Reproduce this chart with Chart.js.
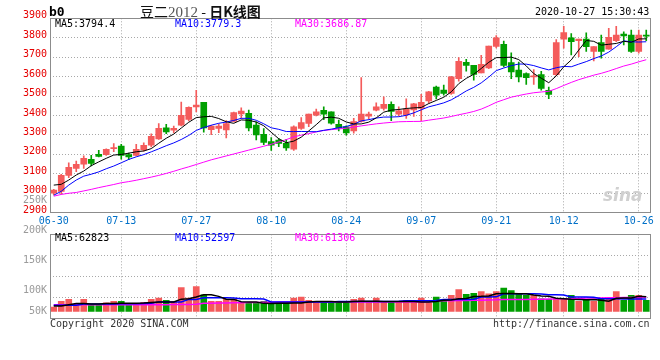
<!DOCTYPE html>
<html><head><meta charset="utf-8">
<script src="https://cdn.jsdelivr.net/npm/chart.js@4/dist/chart.umd.min.js"></script>
<style>
html,body{margin:0;padding:0;background:#fff;}
#wrap{position:relative;width:660px;height:360px;overflow:hidden;background:#fff;}
canvas{position:absolute;left:0;top:0;}
.t{position:absolute;white-space:nowrap;font-family:"DejaVu Sans Mono",monospace;font-size:10px;line-height:10px;}
</style></head><body>
<div id="wrap">
<canvas id="price" width="660" height="232"></canvas>
<canvas id="vol" width="660" height="360"></canvas>
<div class="t" style="left:49px;top:5px;font-size:13px;line-height:13px;font-weight:bold;">b0</div>
<div class="t" style="left:140px;top:3px;font-family:'Noto Sans CJK SC';font-size:14px;line-height:16px;color:#111;">豆二<span style="font-family:'Liberation Serif';color:#555;font-size:15px;">2012</span> - <b>日K线图</b></div>
<div class="t" style="left:535px;top:7px;">2020-10-27 15:30:43</div>
<div class="t" style="left:55px;top:19px;color:#000;">MA5:3794.4</div>
<div class="t" style="left:175px;top:19px;color:#0000ff;">MA10:3779.3</div>
<div class="t" style="left:295px;top:19px;color:#ff00ff;">MA30:3686.87</div>
<div class="t" style="left:55px;top:233px;color:#000;">MA5:62823</div>
<div class="t" style="left:175px;top:233px;color:#0000ff;">MA10:52597</div>
<div class="t" style="left:295px;top:233px;color:#ff00ff;">MA30:61306</div>
<div class="t" style="left:50px;top:319px;color:#333;">Copyright 2020 SINA.COM</div>
<div class="t" style="left:493px;top:319px;color:#333;">http://finance.sina.com.cn</div>
<div class="t" style="left:603px;top:186px;font-family:'DejaVu Sans';font-style:italic;font-weight:bold;font-size:17px;line-height:18px;color:#d0d0d0;">sina</div>
</div>
<script>
const DATES = ['06-30','07-01','07-02','07-03','07-06','07-07','07-08','07-09','07-10','07-13','07-14','07-15','07-16','07-17','07-20','07-21','07-22','07-23','07-24','07-27','07-28','07-29','07-30','07-31','08-03','08-04','08-05','08-06','08-07','08-10','08-11','08-12','08-13','08-14','08-17','08-18','08-19','08-20','08-21','08-24','08-25','08-26','08-27','08-28','08-31','09-01','09-02','09-03','09-04','09-07','09-08','09-09','09-10','09-11','09-14','09-15','09-16','09-17','09-18','09-21','09-22','09-23','09-24','09-25','09-28','09-29','09-30','10-09','10-12','10-13','10-14','10-15','10-16','10-19','10-20','10-21','10-22','10-23','10-26','10-27'];
const TICK_DATES = ['06-30','07-13','07-27','08-10','08-24','09-07','09-21','10-12','10-26'];
const OPEN  = [3000,3009,3092,3128,3149,3175,3200,3199,3230,3243,3199,3195,3223,3248,3279,3336,3324,3350,3380,3444,3468,3327,3333,3326,3370,3408,3411,3351,3303,3266,3274,3257,3227,3333,3359,3402,3427,3419,3355,3342,3321,3369,3397,3427,3436,3458,3407,3403,3429,3437,3475,3546,3531,3514,3590,3674,3658,3619,3645,3755,3766,3672,3633,3616,3599,3610,3529,3610,3793,3800,3785,3793,3729,3775,3741,3785,3819,3814,3729,3814];
const HIGH  = [3020,3097,3157,3166,3192,3195,3221,3229,3255,3252,3207,3252,3260,3306,3358,3354,3346,3469,3445,3529,3468,3350,3356,3374,3418,3439,3428,3368,3333,3286,3281,3278,3347,3389,3407,3433,3445,3419,3376,3347,3386,3595,3417,3465,3496,3470,3445,3486,3462,3509,3524,3551,3556,3602,3698,3689,3658,3709,3757,3811,3783,3723,3675,3620,3636,3627,3546,3790,3859,3822,3793,3825,3754,3814,3848,3859,3831,3839,3839,3839];
const LOW   = [2992,2995,3080,3111,3128,3140,3187,3195,3214,3175,3173,3192,3217,3238,3277,3306,3312,3346,3372,3418,3314,3302,3312,3285,3367,3386,3321,3274,3250,3220,3240,3220,3221,3329,3342,3398,3378,3355,3321,3299,3309,3366,3381,3424,3427,3373,3398,3385,3395,3373,3463,3485,3505,3509,3577,3628,3582,3619,3641,3747,3650,3590,3573,3560,3560,3530,3486,3605,3746,3712,3703,3729,3681,3695,3741,3780,3763,3725,3720,3785];
const CLOSE = [3016,3092,3134,3149,3180,3154,3190,3226,3233,3195,3187,3226,3247,3293,3334,3315,3334,3401,3442,3454,3336,3345,3345,3358,3415,3423,3336,3300,3262,3247,3257,3233,3342,3364,3407,3419,3407,3361,3335,3311,3369,3407,3407,3445,3458,3421,3424,3433,3460,3468,3522,3505,3514,3599,3679,3658,3611,3663,3757,3800,3658,3624,3599,3594,3603,3539,3508,3775,3827,3780,3793,3754,3754,3729,3802,3814,3810,3729,3814,3808];
const MA5  = [3042,3046,3068,3094,3114.2,3141.8,3161.4,3179.8,3196.6,3199.6,3206.2,3213.4,3217.6,3229.6,3257.4,3283,3304.6,3335.4,3365.2,3389.2,3393.4,3395.6,3384.4,3367.6,3359.8,3377.2,3375.4,3366.4,3347.2,3313.6,3280.4,3259.8,3268.2,3288.6,3320.6,3353,3387.8,3391.6,3385.8,3366.6,3356.6,3356.6,3365.8,3387.8,3417.2,3427.6,3431,3436.2,3439.2,3441.2,3461.4,3477.6,3493.8,3521.6,3563.8,3591,3612.2,3642,3673.6,3697.8,3697.8,3700.4,3687.6,3655,3615.6,3591.8,3568.6,3603.8,3650.4,3685.8,3736.6,3785.8,3781.6,3762,3766.4,3770.6,3781.8,3776.8,3793.8,3794.4];
const MA10 = [2990,3010,3042,3068,3088,3098,3110,3126,3140,3156.9,3174,3187.4,3198.7,3213.1,3228.5,3244.6,3259,3276.5,3297.4,3323.3,3338.2,3350.1,3359.9,3366.4,3374.5,3385.3,3385.5,3375.4,3357.4,3336.7,3328.8,3317.6,3317.3,3317.9,3317.1,3316.7,3323.8,3329.9,3337.2,3343.6,3354.8,3372.2,3378.7,3386.8,3391.9,3392.1,3393.8,3401,3413.5,3429.2,3444.5,3454.3,3465,3480.4,3502.5,3526.2,3544.9,3567.9,3597.6,3630.8,3644.4,3656.3,3664.8,3664.3,3656.7,3644.8,3634.5,3645.7,3652.7,3650.7,3664.2,3677.2,3692.7,3706.2,3726.1,3753.6,3783.8,3779.2,3777.9,3779.3];
const MA30 = [2985,2994,3000,3004,3012,3020,3029,3037,3045,3054,3060,3067,3075,3083,3092,3102,3113,3125,3136,3148,3160,3172,3182,3192,3202,3212,3222,3232,3242,3252,3264,3276,3290,3299.1,3306.7,3315.5,3322.8,3327.3,3330.7,3334.5,3340.6,3346.6,3352,3357,3361.2,3364.7,3367.7,3368.8,3369.4,3369.8,3376,3381.4,3387,3395,3403.8,3411.7,3420.8,3432.9,3449.4,3467.9,3481.2,3494.3,3502.8,3510.5,3517,3521,3524.4,3538.2,3554.6,3570.2,3584.4,3595.9,3607.5,3617,3628.4,3641.5,3654.4,3664.3,3676.1,3686.87];
const VOLUME = [18400,42500,51000,29800,51000,28300,28300,36800,42500,42500,28300,31200,38300,51000,56700,46800,42500,102000,56700,106000,70800,42500,42500,51000,51000,38300,36800,36800,42500,32600,36800,36800,56700,61000,46800,42500,42500,42500,39700,39700,51000,56700,39700,56700,39700,39700,39700,46800,46800,56700,36800,61000,51000,68000,93500,72300,76500,85000,75000,85000,99000,89000,75000,68000,68000,53800,51000,53800,53800,68000,42500,51000,42500,51000,51000,85000,46800,68000,68000,46800];
const VOL_MA5  = [23000,23000,28000,33000,33000,31000,31000,33000,33000,34000,35000,35000,36000,38000,40000,40000,40000,52000,54000,61000,71000,71000,64000,52000,51000,41000,40000,40000,34000,33000,35000,35000,36000,36000,40000,42000,42000,42000,40000,40000,42000,43000,43000,43000,42000,42000,42000,42000,42000,40000,40000,42000,47000,48000,54000,55000,63000,64000,66000,75000,76000,76000,75000,75000,70000,66000,64000,56000,54000,52000,51000,50000,51000,47000,43000,56000,57000,57000,64000,62823];
const VOL_MA10 = [25500,25500,25500,26000,31000,31000,31000,31000,31500,32600,32600,32600,33000,34000,39700,39700,39700,40000,51000,51000,58000,58000,58000,58000,57000,54000,54000,54000,53000,40000,40000,40000,40000,40000,40000,40000,40000,40000,42500,42500,42500,42500,42500,42500,42500,42500,43000,45000,45000,45000,45000,46000,51000,51000,51000,51000,52000,61000,61000,62000,75000,75000,75000,75000,75000,74000,71000,71000,70000,61000,61000,61000,60000,54000,54000,54000,52600,52600,52600,52597];
const VOL_MA30 = [28300,28300,28300,28300,28300,28300,28300,28300,28300,28300,28300,28300,28300,28300,28300,28500,28800,29000,29500,30000,34000,35000,35500,36000,36500,37000,37500,38000,38500,39000,39500,39700,39700,39700,39700,39700,39700,39700,40000,40000,40000,40000,40000,40000,40000,40000,40000,40000,40000,40000,40500,45000,45000,45500,46000,46500,47000,47500,48000,49000,51000,51000,51000,51000,51500,52000,52500,53000,53500,54000,55000,57000,57000,57500,58000,58500,59000,59500,60500,61306];
const PRICE_MIN = 2900, PRICE_MAX = 3900, PRICE_STEP = 100;
const VOL_TICK_VALUES = [250000,200000,150000,100000,50000];
const VOL_TICK_LABELS = ['250K','200K','150K','100K','50K'];

const UP = '#f45b5b', DOWN = '#009f00';
const GRID = '#a8a8a8', FRAME = '#8c8c8c';
const MONO = 'DejaVu Sans Mono';
const candleColor = ctx => CLOSE[ctx.dataIndex] >= OPEN[ctx.dataIndex] ? UP : DOWN;
const vGridColor = ctx => (ctx.index > 0 && TICK_DATES.includes(DATES[ctx.index])) ? GRID : 'rgba(0,0,0,0)';

const framePlugin = {
  id: 'frame',
  afterDraw(chart) {
    const a = chart.chartArea, c = chart.ctx;
    c.save(); c.strokeStyle = FRAME; c.lineWidth = 1;
    c.strokeRect(Math.round(a.left) + 0.5, Math.round(a.top) + 0.5, Math.round(a.right - a.left), Math.round(a.bottom - a.top));
    c.restore();
  }
};
// volume axis labels: placed by the label scale, never below the volume baseline
const volLabelPlugin = {
  id: 'volLabels',
  afterDraw(chart) {
    const yl = chart.scales.yl, yv = chart.scales.y, c = chart.ctx;
    const base = yv.getPixelForValue(0);
    c.save(); c.fillStyle = '#9a9a9a'; c.font = '10px "' + MONO + '"';
    c.textAlign = 'right'; c.textBaseline = 'middle';
    VOL_TICK_VALUES.forEach((v, i) => {
      c.fillText(VOL_TICK_LABELS[i], chart.chartArea.left - 3, Math.min(yl.getPixelForValue(v), base));
    });
    c.restore();
  }
};
const lineDs = (label, data, color, w) => ({type:'line', label, data, borderColor:color, borderWidth:w||1, pointRadius:0, tension:0, order:0});

new Chart(document.getElementById('price'), {
  type: 'bar',
  data: {
    labels: DATES,
    datasets: [
      lineDs('MA5', MA5, '#000000'),
      lineDs('MA10', MA10, '#0000ff'),
      lineDs('MA30', MA30, '#ff00ff'),
      {label:'range', data: LOW.map((l,i)=>[l,HIGH[i]]), backgroundColor: candleColor, barThickness:1, grouped:false, order:2},
      {label:'body', data: OPEN.map((o,i)=>[o,CLOSE[i]]), backgroundColor: candleColor, barThickness:6, grouped:false, minBarLength:1, order:1}
    ]
  },
  options: {
    responsive:false, animation:false, events:[],
    layout:{padding:{left:0,right:10,top:18.3,bottom:0}},
    plugins:{legend:{display:false}, tooltip:{enabled:false}},
    scales:{
      x:{offset:true, grid:{offset:false, color:vGridColor, drawTicks:false}, border:{display:false, dash:[1,2]},
         ticks:{autoSkip:false, maxRotation:0, padding:3, color:'#0070c8', font:{family:MONO,size:10},
                callback:(v,i)=> TICK_DATES.includes(DATES[i]) ? DATES[i] : ''},
         afterFit:s=>{s.height=19.3;}},
      y:{min:PRICE_MIN, max:PRICE_MAX, grid:{color:GRID, drawTicks:false}, border:{display:false, dash:[1,2]},
         ticks:{stepSize:PRICE_STEP, padding:3, labelOffset:-2.5, color:'#e60000', font:{family:MONO,size:10}, callback:v=>String(v)},
         afterFit:s=>{s.width=50;}}
    }
  },
  plugins:[framePlugin]
});

new Chart(document.getElementById('vol'), {
  type: 'bar',
  data: {
    labels: DATES,
    datasets: [
      lineDs('VMA5', VOL_MA5, '#000000', 1.5),
      lineDs('VMA10', VOL_MA10, '#0000ff', 1.5),
      lineDs('VMA30', VOL_MA30, '#ff00ff', 1.5),
      {label:'volume', data: VOLUME, backgroundColor: candleColor, barThickness:6, order:1, yAxisID:'y'}
    ]
  },
  options: {
    responsive:false, animation:false, events:[],
    layout:{padding:{left:0,right:10,top:234.3,bottom:41.7}},
    plugins:{legend:{display:false}, tooltip:{enabled:false}},
    scales:{
      x:{offset:true, grid:{offset:false, color:vGridColor, drawTicks:false}, border:{display:false, dash:[1,2]},
         ticks:{display:false}, afterFit:s=>{s.height=0;}},
      y:{position:'left', min:-30000, max:330000, grid:{color:GRID, drawTicks:false}, border:{display:false, dash:[1,2]},
         ticks:{display:false, stepSize:90000}, afterFit:s=>{s.width=0;}},
      yl:{position:'left', min:52833, max:192833, grid:{display:false, drawTicks:false}, border:{display:false},
         ticks:{display:false}, afterFit:s=>{s.width=50;}}
    }
  },
  plugins:[framePlugin, volLabelPlugin]
});
</script>
</body></html>
